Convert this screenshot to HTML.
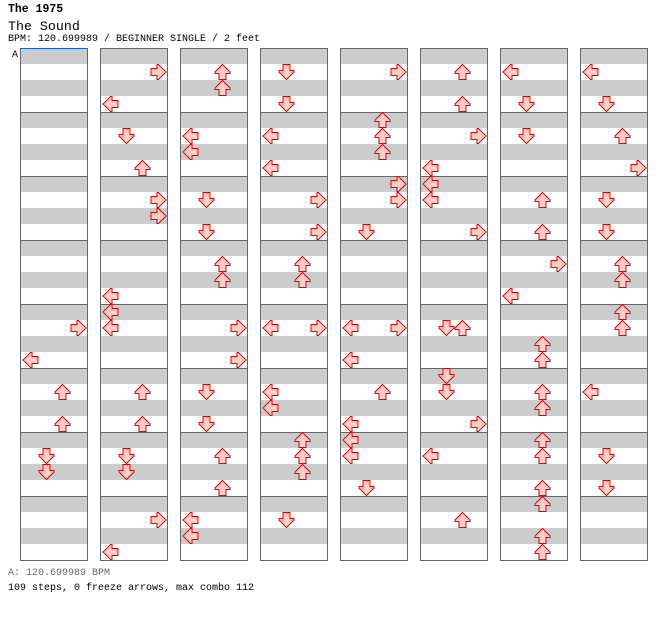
<!DOCTYPE html>
<html><head><meta charset="utf-8">
<style>
body{margin:0;background:#fff;width:672px;height:620px;overflow:hidden;font-family:"Liberation Mono",monospace;}
.t{position:absolute;left:8px;white-space:nowrap;color:#000}
</style></head>
<body>
<div class="t" style="top:3px;font-size:11.5px;font-weight:bold">The 1975</div>
<div class="t" style="top:19px;font-size:13.3px">The Sound</div>
<div class="t" style="top:34px;font-size:10px">BPM: 120.699989 / BEGINNER SINGLE / 2 feet</div>
<div class="t" style="top:568px;font-size:10px;color:#666">A: 120.699989 BPM</div>
<div class="t" style="top:583px;font-size:10px">109 steps, 0 freeze arrows, max combo 112</div>
<svg id="chart" width="672" height="620" style="position:absolute;left:0;top:0"></svg>
<script>
// notes per column: [measure, eighthPosition, lane]  lanes: L D U R
const lanes = ['L','D','U','R'];
const col0 = [[4,2,'R'],[4,6,'L'],[5,2,'U'],[5,6,'U'],[6,2,'D'],[6,4,'D']];
const col1 = [[0,2,'R'],[0,6,'L'],[1,2,'D'],[1,6,'U'],[2,2,'R'],[2,4,'R'],[3,6,'L'],[4,0,'L'],[4,2,'L'],[5,2,'U'],[5,6,'U'],[6,2,'D'],[6,4,'D'],[7,2,'R'],[7,6,'L']];
const col2 = [[0,2,'U'],[0,4,'U'],[1,2,'L'],[1,4,'L'],[2,2,'D'],[2,6,'D'],[3,2,'U'],[3,4,'U'],[4,2,'R'],[4,6,'R'],[5,2,'D'],[5,6,'D'],[6,2,'U'],[6,6,'U'],[7,2,'L'],[7,4,'L']];
const col3 = [[0,2,'D'],[0,6,'D'],[1,2,'L'],[1,6,'L'],[2,2,'R'],[2,6,'R'],[3,2,'U'],[3,4,'U'],[4,2,'L'],[4,2,'R'],[5,2,'L'],[5,4,'L'],[6,0,'U'],[6,2,'U'],[6,4,'U'],[7,2,'D']];
const col4 = [[0,2,'R'],[1,0,'U'],[1,2,'U'],[1,4,'U'],[2,0,'R'],[2,2,'R'],[2,6,'D'],[4,2,'L'],[4,2,'R'],[4,6,'L'],[5,2,'U'],[5,6,'L'],[6,0,'L'],[6,2,'L'],[6,6,'D']];
const col5 = [[0,2,'U'],[0,6,'U'],[1,2,'R'],[1,6,'L'],[2,0,'L'],[2,2,'L'],[2,6,'R'],[4,2,'D'],[4,2,'U'],[5,0,'D'],[5,2,'D'],[5,6,'R'],[6,2,'L'],[7,2,'U']];
const col6 = [[0,2,'L'],[0,6,'D'],[1,2,'D'],[2,2,'U'],[2,6,'U'],[3,2,'R'],[3,6,'L'],[4,4,'U'],[4,6,'U'],[5,2,'U'],[5,4,'U'],[6,0,'U'],[6,2,'U'],[6,6,'U'],[7,0,'U'],[7,4,'U'],[7,6,'U']];
const col7 = [[0,2,'L'],[0,6,'D'],[1,2,'U'],[1,6,'R'],[2,2,'D'],[2,6,'D'],[3,2,'U'],[3,4,'U'],[4,0,'U'],[4,2,'U'],[5,2,'L'],[6,2,'D'],[6,6,'D']];
const columns = [col0,col1,col2,col3,col4,col5,col6,col7];

const NS='http://www.w3.org/2000/svg';
const svg=document.getElementById('chart');
const X0=20, COLSTEP=80, W=68, Y0=48, MH=64;
const colX = c => X0 + c*COLSTEP;
const noteY = (m,p) => Y0 + m*MH + p*8 + 8;
const laneX = (c,l) => colX(c) + 10.5 + lanes.indexOf(l)*16;
const rot = {L:-90,D:180,U:0,R:90};
function mk(t,a){const e=document.createElementNS(NS,t);for(const k in a)e.setAttribute(k,a[k]);svg.appendChild(e);return e;}

for(let c=0;c<8;c++){
  for(let m=0;m<8;m++){
    const y=Y0+m*MH;
    for(let s=0;s<4;s++){
      const r=mk('rect',{x:colX(c),y:y+s*16,width:W,height:16,fill:s%2===0?'#cccccc':'#ffffff'});
      
      
    }
    const b=mk('rect',{x:colX(c)+0.5,y:y+0.5,width:W-1,height:MH,fill:'none',stroke:'#666','stroke-width':1});
    
    
  }
}
const bl=mk('line',{x1:20,y1:48.5,x2:88,y2:48.5,stroke:'#1060d0','stroke-width':1});


const at=mk('text',{x:12,y:57,'font-size':10,'font-family':'Liberation Mono, monospace',fill:'#000'});
at.textContent='A';



const arrowPath='M0,-7.5 L7.5,0 L7.5,1.5 L3.5,1.5 L3.5,7.5 L-3.5,7.5 L-3.5,1.5 L-7.5,1.5 L-7.5,0 Z';
columns.forEach((notes,c)=>{
  notes.forEach(n=>{
    const [m,p,l]=n;
    const a=mk('path',{d:arrowPath,fill:'#ffcccc',stroke:'#dd0000','stroke-width':1,
      transform:`translate(${laneX(c,l)},${noteY(m,p)}) rotate(${rot[l]})`});
    
    
  });
});
</script>
</body></html>
